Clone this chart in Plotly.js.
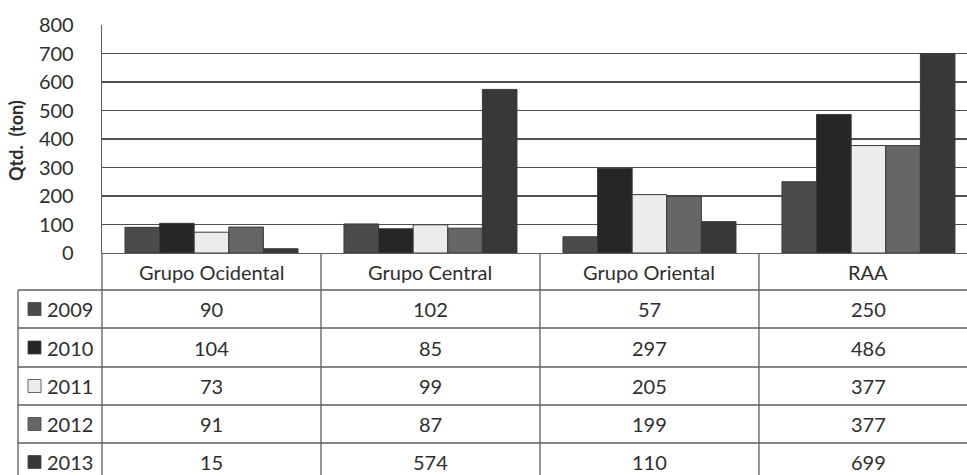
<!DOCTYPE html>
<html>
<head>
<meta charset="utf-8">
<script src="https://cdn.plot.ly/plotly-3.0.1.min.js"></script>
<style>html,body{margin:0;padding:0;background:#fff;}#chart{width:967px;height:475px;}</style>
</head>
<body>
<div id="chart"></div>
<script>
const categories = ['Grupo Ocidental', 'Grupo Central', 'Grupo Oriental', 'RAA'];
const years = ['2009', '2010', '2011', '2012', '2013'];
const v2009 = [90, 102, 57, 250];
const v2010 = [104, 85, 297, 486];
const v2011 = [73, 99, 205, 377];
const v2012 = [91, 87, 199, 377];
const v2013 = [15, 574, 110, 699];
const yTicks = [0, 100, 200, 300, 400, 500, 600, 700, 800];

const series = [v2009, v2010, v2011, v2012, v2013];
const colors = ['#4b4b4b', '#262626', '#ececec', '#666666', '#383838'];

// pixel geometry helpers (layout only)
const W = 967, H = 475;
const L = 102, T = 25, B = 253;
const plotW = W - L, plotH = B - T;
const px = x => (x - L) / plotW;
const py = y => (B - y) / plotH;
const rowEdges = [253, 290, 328, 367, 405, 443, 481];

const font = 'Lato, "Open Sans", sans-serif';
const textColor = '#2e2e2e';
const lineColor = '#5e5e5e';
const fs = 20;

const traces = series.map((vals, i) => ({
  type: 'bar',
  name: years[i],
  x: categories,
  y: vals,
  marker: {color: colors[i], line: {color: '#3a3a3a', width: 1}},
  hoverinfo: 'x+y+name'
}));

const shapes = [];
const annotations = [];

// horizontal row lines of the data table
for (let r = 1; r < rowEdges.length; r++) {
  shapes.push({type: 'line', xref: 'paper', yref: 'paper',
    x0: px(18), x1: 1, y0: py(rowEdges[r]), y1: py(rowEdges[r]),
    line: {color: lineColor, width: 1.3}});
}
// vertical lines between categories
for (let c = 0; c < categories.length - 1; c++) {
  shapes.push({type: 'line', xref: 'x', yref: 'paper',
    x0: c + 0.5, x1: c + 0.5, y0: 0, y1: py(rowEdges[rowEdges.length - 1]),
    line: {color: lineColor, width: 1.3}});
}
// table left edges
shapes.push({type: 'line', xref: 'paper', yref: 'paper', x0: 0, x1: 0,
  y0: 0, y1: py(rowEdges[rowEdges.length - 1]), line: {color: lineColor, width: 1.3}});
shapes.push({type: 'line', xref: 'paper', yref: 'paper', x0: px(18), x1: px(18),
  y0: py(rowEdges[1]), y1: py(rowEdges[rowEdges.length - 1]), line: {color: lineColor, width: 1.3}});

// header row: category names
categories.forEach(cat => {
  annotations.push({xref: 'x', yref: 'paper', x: cat,
    y: py((rowEdges[0] + rowEdges[1]) / 2), text: cat, showarrow: false,
    font: {family: font, size: fs, color: textColor}, xanchor: 'center', yanchor: 'middle'});
});
// data rows with legend keys
years.forEach((yr, i) => {
  const yc = (rowEdges[i + 1] + rowEdges[i + 2]) / 2;
  shapes.push({type: 'rect', xref: 'paper', yref: 'paper',
    x0: px(28), x1: px(41), y0: py(yc - 6.5), y1: py(yc + 6.5),
    fillcolor: colors[i], line: {color: '#444444', width: 0.8}});
  annotations.push({xref: 'paper', yref: 'paper', x: px(45), y: py(yc),
    text: yr, showarrow: false, xanchor: 'left', yanchor: 'middle',
    font: {family: font, size: fs, color: textColor}});
  categories.forEach((cat, c) => {
    annotations.push({xref: 'x', yref: 'paper', x: cat, y: py(yc),
      text: String(series[i][c]), showarrow: false, xanchor: 'center', yanchor: 'middle',
      font: {family: font, size: fs, color: textColor}});
  });
});
// y-axis title
annotations.push({xref: 'paper', yref: 'paper', x: px(16), y: py(141),
  text: '<b>Qtd.&nbsp;&nbsp;(ton)</b>', textangle: -90, showarrow: false,
  xanchor: 'center', yanchor: 'middle', font: {family: font, size: 18, color: textColor}});

const layout = {
  width: W, height: H,
  margin: {l: L, r: 0, t: T, b: H - B, pad: 0},
  paper_bgcolor: '#ffffff', plot_bgcolor: '#ffffff',
  barmode: 'group', bargap: 0.21, bargroupgap: 0,
  showlegend: false,
  font: {family: font, color: textColor},
  xaxis: {type: 'category', range: [-0.5, 3.45], showticklabels: false, showgrid: false, zeroline: false,
    showline: true, linecolor: lineColor, linewidth: 1.3, ticks: '', fixedrange: true},
  yaxis: {range: [0, 800], tickvals: yTicks, ticktext: yTicks.map(String),
    showgrid: true, gridcolor: '#505050', gridwidth: 1.3, zeroline: false,
    showline: true, linecolor: lineColor, linewidth: 1.3, ticks: '',
    ticklabelstandoff: 23,
    tickfont: {family: font, size: fs, color: textColor}, fixedrange: true},
  shapes: shapes,
  annotations: annotations
};

Plotly.newPlot('chart', traces, layout, {displayModeBar: false, staticPlot: true});
</script>
</body>
</html>
